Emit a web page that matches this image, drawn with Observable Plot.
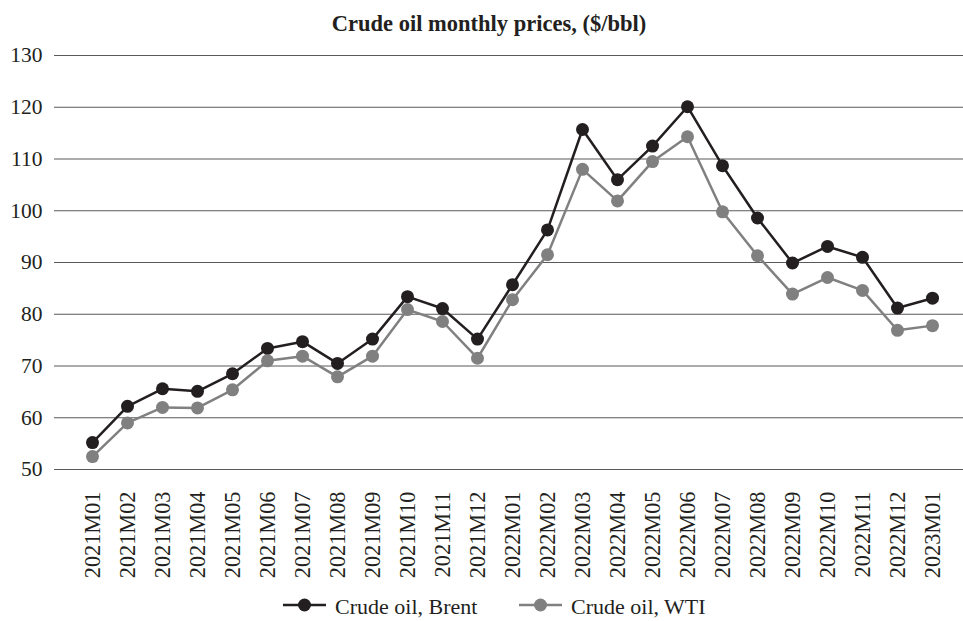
<!DOCTYPE html>
<html>
<head>
<meta charset="utf-8">
<script src="https://cdn.jsdelivr.net/npm/d3@7"></script>
<script src="https://cdn.jsdelivr.net/npm/@observablehq/plot@0.6"></script>
<style>
  html, body { margin: 0; padding: 0; background: #fff; }
  #wrap { position: relative; width: 963px; height: 621px; overflow: hidden; font-family: "Liberation Serif", "Times New Roman", serif; color: #231f20; }
  #title { position: absolute; top: 13px; left: 489px; transform: translateX(-50%); white-space: nowrap; font-weight: bold; font-size: 22.5px; line-height: 1; }
  #chart { position: absolute; top: 0; left: 0; }
  #legend { position: absolute; top: 0; left: 0; width: 963px; height: 621px; pointer-events: none; }
  .sw { position: absolute; top: 597px; }
  .lt { position: absolute; top: 596px; font-size: 22px; line-height: 1; white-space: nowrap; }
</style>
</head>
<body>
<div id="wrap">
  <div id="chart"></div>
  <div id="title">Crude oil monthly prices, ($/bbl)</div>
  <div id="legend"></div>
</div>
<script>
const months = ["2021M01","2021M02","2021M03","2021M04","2021M05","2021M06","2021M07","2021M08","2021M09","2021M10","2021M11","2021M12",
  "2022M01","2022M02","2022M03","2022M04","2022M05","2022M06","2022M07","2022M08","2022M09","2022M10","2022M11","2022M12","2023M01"];
const seriesNames = ["Crude oil, Brent", "Crude oil, WTI"];
const brent = [55.2, 62.2, 65.6, 65.1, 68.5, 73.4, 74.7, 70.5, 75.2, 83.4, 81.1, 75.2,
  85.7, 96.3, 115.7, 106.0, 112.5, 120.1, 108.7, 98.6, 89.9, 93.1, 91.0, 81.2, 83.1];
const wti = [52.5, 59.0, 62.0, 61.9, 65.4, 71.0, 71.9, 67.9, 71.9, 80.9, 78.6, 71.5,
  82.8, 91.5, 108.0, 101.9, 109.5, 114.3, 99.8, 91.3, 83.9, 87.1, 84.6, 76.9, 77.8];
const yTicks = [50, 60, 70, 80, 90, 100, 110, 120, 130];
const colors = ["#231f20", "#808080"];

const data = [];
months.forEach((m, i) => {
  data.push({month: m, series: seriesNames[0], value: brent[i]});
});
months.forEach((m, i) => {
  data.push({month: m, series: seriesNames[1], value: wti[i]});
});

const chart = Plot.plot({
  width: 963,
  height: 621,
  marginLeft: 54,
  marginRight: 0,
  marginTop: 55,
  marginBottom: 152,
  style: {fontFamily: "Liberation Serif, Times New Roman, serif", fontSize: "21px", color: "#231f20", background: "transparent"},
  x: {type: "point", domain: months, range: [71.7, 951.7], label: null},
  y: {domain: [50, 130], label: null},
  color: {domain: seriesNames, range: colors},
  marks: [
    Plot.ruleY(yTicks, {stroke: "#5a5a5a", strokeWidth: 1.2}),
    Plot.axisY({ticks: yTicks, tickSize: 0, tickPadding: 12, fontSize: 21.5, label: null}),
    Plot.axisX({tickRotate: -90, tickSize: 0, tickPadding: 22, fontSize: 22.3, label: null}),
    Plot.line(data, {x: "month", y: "value", z: "series", stroke: "series", strokeWidth: 2.5}),
    Plot.dot(data, {x: "month", y: "value", fill: "series", r: 6.5})
  ]
});
document.getElementById("chart").appendChild(chart);

const legend = document.getElementById("legend");
const lefts = [283, 519];
seriesNames.forEach((name, i) => {
  const sw = document.createElement("div");
  sw.className = "sw";
  sw.style.left = lefts[i] + "px";
  sw.innerHTML = `<svg width="43" height="16" style="display:block"><line x1="0" x2="43" y1="8" y2="8" stroke="${colors[i]}" stroke-width="2.5"/><circle cx="21.5" cy="8" r="6.5" fill="${colors[i]}"/></svg>`;
  legend.appendChild(sw);
  const t = document.createElement("div");
  t.className = "lt";
  t.style.left = (lefts[i] + 52) + "px";
  t.textContent = name;
  legend.appendChild(t);
});
</script>
</body>
</html>
